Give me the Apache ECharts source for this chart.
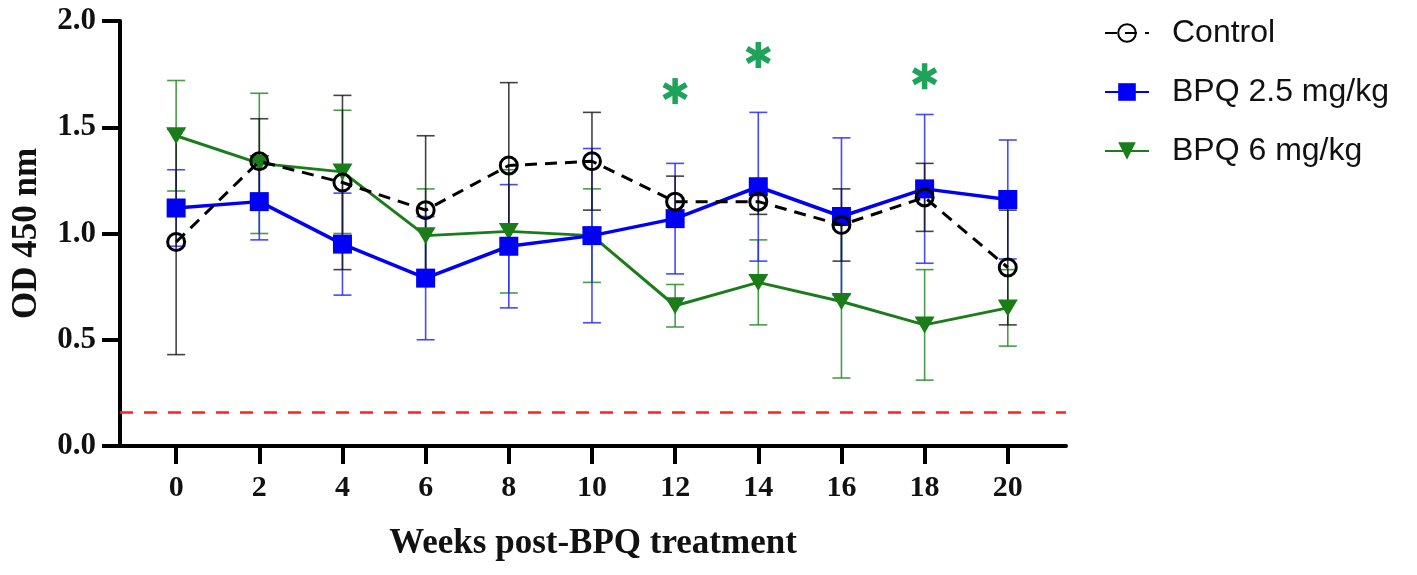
<!DOCTYPE html>
<html lang="en">

<head>
    <meta charset="UTF-8">
    <title>OD 450 nm</title>
    <script src="https://cdn.jsdelivr.net/npm/echarts@6.0.0/dist/echarts.min.js"></script>
    <style>
        html, body { margin: 0; padding: 0; background: #fff; }
        .box { width: 1417px; height: 575px; }
    </style>
</head>

<body>
    <div class="box"></div>
</body>

</html>
<script>
    // weeks after treatment
    var weeks = [0, 2, 4, 6, 8, 10, 12, 14, 16, 18, 20];

    // mean and SD
    var controlMean = [0.96, 1.34, 1.24, 1.11, 1.32, 1.34, 1.15, 1.15, 1.04, 1.17, 0.84];
    var controlSd = [0.53, 0.20, 0.41, 0.35, 0.39, 0.23, 0.12, 0.06, 0.17, 0.16, 0.27];
    var bpq25Mean = [1.12, 1.15, 0.95, 0.79, 0.94, 0.99, 1.07, 1.22, 1.08, 1.21, 1.16];
    var bpq25Sd = [0.18, 0.18, 0.24, 0.29, 0.29, 0.41, 0.26, 0.35, 0.37, 0.35, 0.28];
    var bpq6Mean = [1.46, 1.33, 1.29, 0.99, 1.01, 0.99, 0.66, 0.77, 0.68, 0.57, 0.65];
    var bpq6Sd = [0.26, 0.33, 0.29, 0.22, 0.29, 0.22, 0.10, 0.20, 0.36, 0.26, 0.18];

    // significance stars (week, height)
    var starWeeks = [12, 14, 18];
    var starY = [1.67, 1.84, 1.74];

    // cut-off line
    var cutoff = 0.16;

    function pts(mean) {
        return weeks.map(function(w, i) { return [w, mean[i]]; });
    }

    function bars(mean, sd) {
        return weeks.map(function(w, i) { return [w, mean[i] - sd[i], mean[i] + sd[i]]; });
    }

    function errorItem(color) {
        return function(params, api) {
            var x = api.value(0);
            var lo = api.coord([x, api.value(1)]);
            var hi = api.coord([x, api.value(2)]);
            var w = 9;
            var st = { stroke: color, lineWidth: 1.6 };
            return {
                type: 'group',
                children: [
                    { type: 'line', shape: { x1: lo[0], y1: lo[1], x2: hi[0], y2: hi[1] }, style: st },
                    { type: 'line', shape: { x1: lo[0] - w, y1: lo[1], x2: lo[0] + w, y2: lo[1] }, style: st },
                    { type: 'line', shape: { x1: hi[0] - w, y1: hi[1], x2: hi[0] + w, y2: hi[1] }, style: st }
                ]
            };
        };
    }

    // six-armed star drawn as three strokes
    function starItem(params, api) {
        var c = api.coord([api.value(0), api.value(1)]);
        var r = 13;
        var kids = [];
        [90, 30, 150].forEach(function(a) {
            var rad = a * Math.PI / 180;
            var dx = r * Math.cos(rad), dy = r * Math.sin(rad);
            kids.push({
                type: 'line',
                shape: { x1: c[0] - dx, y1: c[1] - dy, x2: c[0] + dx, y2: c[1] + dy },
                style: { stroke: '#1fa35a', lineWidth: 5.5 }
            });
        });
        return { type: 'group', children: kids };
    }

    var serif = 'Liberation Serif';

    var option = {
        animation: false,
        grid: { left: 120, right: 351, top: 21, bottom: 129, outerBoundsMode: 'none' },
        legend: {
            orient: 'vertical',
            left: 1099,
            top: 11,
            itemWidth: 44,
            itemHeight: 22,
            itemGap: 25,
            data: ['Control', 'BPQ 2.5 mg/kg', 'BPQ 6 mg/kg'],
            textStyle: {
                fontFamily: 'Liberation Sans',
                fontSize: 32,
                lineHeight: 34,
                color: '#111',
                padding: [0, 0, 0, 18]
            }
        },
        xAxis: {
            type: 'value',
            min: -1.35,
            max: 21.4,
            name: 'Weeks post-BPQ treatment',
            nameLocation: 'middle',
            nameGap: 80,
            nameTextStyle: { fontFamily: serif, fontWeight: 'bold', fontSize: 35, color: '#111' },
            axisLine: { onZero: false, lineStyle: { color: '#000', width: 4 } },
            axisTick: { customValues: weeks, length: 18, lineStyle: { color: '#000', width: 4 } },
            axisLabel: {
                customValues: weeks,
                margin: 27,
                fontFamily: serif,
                fontWeight: 'bold',
                fontSize: 30,
                color: '#111'
            },
            splitLine: { show: false }
        },
        yAxis: {
            type: 'value',
            min: 0,
            max: 2,
            interval: 0.5,
            name: 'OD 450 nm',
            nameLocation: 'middle',
            nameGap: 76,
            nameTextStyle: { fontFamily: serif, fontWeight: 'bold', fontSize: 35, color: '#111' },
            axisLine: { show: true, onZero: false, lineStyle: { color: '#000', width: 4 } },
            axisTick: { show: true, length: 18, lineStyle: { color: '#000', width: 4 } },
            axisLabel: {
                margin: 24,
                fontFamily: serif,
                fontWeight: 'bold',
                fontSize: 31,
                color: '#111',
                formatter: function(v) { return v.toFixed(1); }
            },
            splitLine: { show: false }
        },
        series: [{
            name: 'cutoff',
            type: 'line',
            data: [],
            silent: true,
            markLine: {
                silent: true,
                symbol: 'none',
                label: { show: false },
                lineStyle: { color: '#ff2020', type: [13, 11], width: 2.5 },
                data: [{ yAxis: cutoff }]
            }
        }, {
            name: 'err6',
            type: 'custom',
            z: 1,
            renderItem: errorItem('rgba(40,140,40,0.85)'),
            encode: { x: 0, y: [1, 2] },
            data: bars(bpq6Mean, bpq6Sd)
        }, {
            name: 'err25',
            type: 'custom',
            z: 1,
            renderItem: errorItem('rgba(40,40,255,0.85)'),
            encode: { x: 0, y: [1, 2] },
            data: bars(bpq25Mean, bpq25Sd)
        }, {
            name: 'errC',
            type: 'custom',
            z: 1,
            renderItem: errorItem('rgba(20,20,20,0.8)'),
            encode: { x: 0, y: [1, 2] },
            data: bars(controlMean, controlSd)
        }, {
            name: 'BPQ 6 mg/kg',
            type: 'line',
            z: 2,
            data: pts(bpq6Mean),
            symbol: 'triangle',
            symbolRotate: 180,
            symbolSize: [20, 17],
            itemStyle: { color: '#1a7d1a' },
            lineStyle: { color: '#1a7d1a', width: 3 }
        }, {
            name: 'BPQ 2.5 mg/kg',
            type: 'line',
            z: 3,
            data: pts(bpq25Mean),
            symbol: 'rect',
            symbolSize: 19,
            itemStyle: { color: '#0000f5' },
            lineStyle: { color: '#0000f5', width: 3.5 }
        }, {
            name: 'Control',
            type: 'line',
            z: 4,
            data: pts(controlMean),
            symbol: 'circle',
            symbolSize: 17,
            itemStyle: { color: 'rgba(0,0,0,0)', borderColor: '#000', borderWidth: 3 },
            lineStyle: { color: '#000', width: 3, type: [12, 8] }
        }, {
            name: 'stars',
            type: 'custom',
            z: 5,
            renderItem: starItem,
            data: starWeeks.map(function(w, i) { return [w, starY[i]]; })
        }]
    };

    var myChart = echarts.init(document.querySelector('.box'));
    myChart.setOption(option);
</script>
